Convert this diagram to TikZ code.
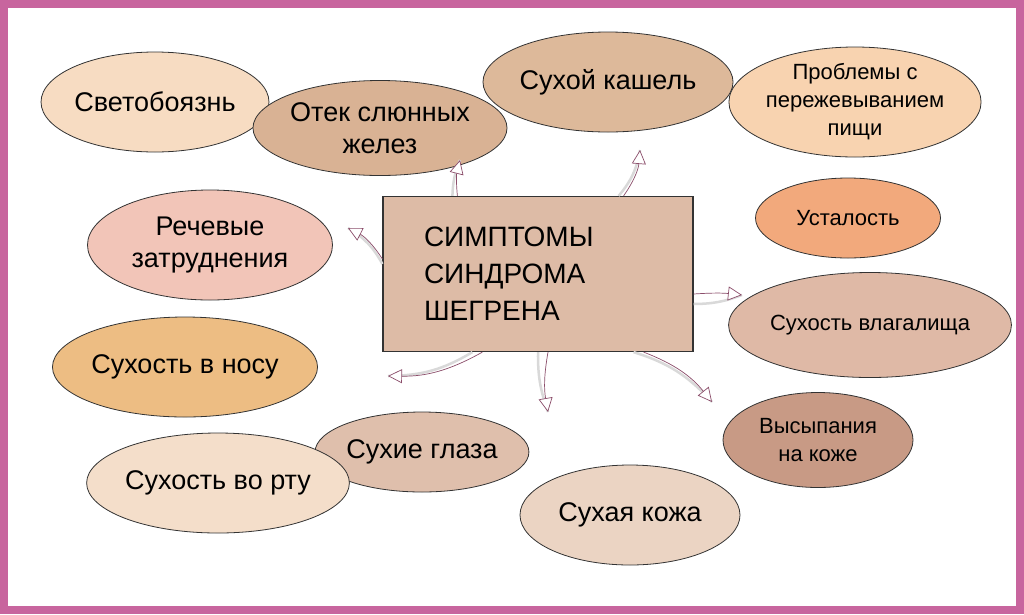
\documentclass[tikz,border=0pt]{standalone}
\usepackage{fontspec}
\setmainfont{Liberation Sans}
\usetikzlibrary{arrows.meta,shapes.geometric}
\definecolor{frame}{HTML}{C8659E}
\definecolor{link}{HTML}{8B4D6A}
\tikzset{
  blob/.style={draw=black!80, line width=0.8pt, ellipse, inner sep=0pt, align=center,
    font=\fontsize{27}{32}\selectfont},
  smallblob/.style={blob, font=\fontsize{22}{28}\selectfont},
  tip/.style={-{Triangle[open,length=14pt,width=14pt,fill=white]}, draw=link, line width=0.7pt},
  shade/.style={draw=black!15, line width=2.5pt}
}
\begin{document}
\begin{tikzpicture}[x=1pt,y=-1pt]
  \useasboundingbox (0,0) rectangle (1024,614);
  \fill[white] (0,0) rectangle (1024,614);
  \draw[frame, line width=8pt] (4,4) rectangle (1020,610);

  % centre
  \node (main) [draw=black!80, line width=1.2pt, fill={rgb,255:red,221;green,187;blue,166},
    minimum width=310pt, minimum height=155pt, align=left,
    font=\fontsize{28}{37}\selectfont] at (538,274)
    {\hspace*{-8pt}\parbox{220pt}{СИМПТОМЫ\\СИНДРОМА\\ШЕГРЕНА}};

  % topics
  \node (sv) [blob, fill={rgb,255:red,247;green,220;blue,194}, minimum width=225pt, minimum height=100pt] at (155,102) {Светобоязнь};
  \node (ot) [blob, fill={rgb,255:red,217;green,178;blue,148}, minimum width=215pt, minimum height=95pt] at (380,128) {Отек слюнных\\желез};
  \node (ka) [blob, fill={rgb,255:red,221;green,185;blue,154}, minimum width=225pt, minimum height=100pt] at (608,82) {Сухой кашель};
  \node (pr) [smallblob, fill={rgb,255:red,248;green,211;blue,176}, minimum width=250pt, minimum height=110pt] at (855,102) {Проблемы с\\пережевыванием\\пищи};
  \node (re) [blob, fill={rgb,255:red,242;green,197;blue,184}, minimum width=245pt, minimum height=110pt] at (210,245) {Речевые\\затруднения};
  \node (us) [smallblob, fill={rgb,255:red,242;green,169;blue,124}, minimum width=185pt, minimum height=80pt] at (848,218) {Усталость};
  \node (vl) [smallblob, fill={rgb,255:red,223;green,185;blue,166}, minimum width=220pt, minimum height=105pt] at (870,325) {Сухость влагалища};
  \node (no) [blob, fill={rgb,255:red,237;green,189;blue,131}, minimum width=230pt, minimum height=100pt] at (185,367) {Сухость в носу};
  \node (gl) [blob, fill={rgb,255:red,223;green,191;blue,172}, minimum width=170pt, minimum height=80pt] at (422,452) {Сухие глаза};
  \node (vy) [smallblob, fill={rgb,255:red,200;green,154;blue,133}, minimum width=190pt, minimum height=95pt] at (818,440) {Высыпания\\на коже};
  \node (rt) [blob, fill={rgb,255:red,244;green,222;blue,202}, minimum width=230pt, minimum height=100pt] at (218,483) {Сухость во рту};
  \node (ko) [blob, fill={rgb,255:red,235;green,212;blue,195}, minimum width=220pt, minimum height=100pt] at (630,515) {Сухая кожа};

  % arrow ends
  \coordinate (e1) at (460,160);
  \coordinate (e2) at (640,150);
  \coordinate (e3) at (348,228);
  \coordinate (e4) at (742,295);
  \coordinate (e5) at (388,376);
  \coordinate (e6) at (548,412);
  \coordinate (e7) at (712,402);

  \draw[shade] (main.north west) ++(70,0) to[bend left=10] (e1);
  \draw[tip] (main.north west) ++(75,0) to[bend left=10] (e1);
  \draw[shade] (main.north east) ++(-75,0) to[bend right=15] (e2);
  \draw[tip] (main.north east) ++(-70,0) to[bend right=15] (e2);
  \draw[shade] (main.west) ++(0,-10) to[bend right=15] (e3);
  \draw[tip] (main.west) ++(0,-15) to[bend right=15] (e3);
  \draw[shade] (main.east) ++(0,30) to[bend right=10] (e4);
  \draw[tip] (main.east) ++(0,20) to[bend left=5] (e4);
  \draw[shade] (main.south west) ++(90,0) to[bend left=15] (e5);
  \draw[tip] (main.south west) ++(100,0) to[bend left=15] (e5);
  \draw[shade] (main.south) ++(0,0) to[bend right=10] (e6);
  \draw[tip] (main.south) ++(10,0) to[bend right=10] (e6);
  \draw[shade] (main.south east) ++(-60,0) to[bend left=15] (e7);
  \draw[tip] (main.south east) ++(-50,0) to[bend left=15] (e7);
\end{tikzpicture}
\end{document}
